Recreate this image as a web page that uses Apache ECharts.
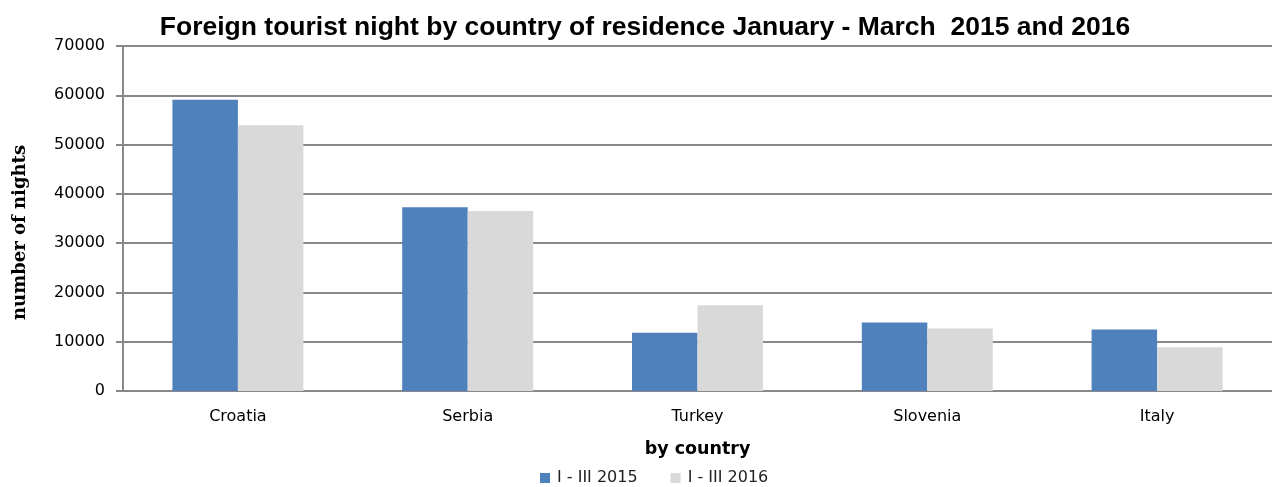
<!DOCTYPE html>
<html>
<head>
<meta charset="utf-8">
<script src="https://cdn.jsdelivr.net/npm/echarts@6/dist/echarts.min.js"></script>
<style>
html, body { margin: 0; padding: 0; background: #fff; }
#chart { width: 1272px; height: 487px; }
</style>
</head>
<body>
<div id="chart"></div>
<script>
// data
var countries = ['Croatia', 'Serbia', 'Turkey', 'Slovenia', 'Italy'];
var nights2015 = [59100, 37300, 11800, 13900, 12500];
var nights2016 = [53900, 36500, 17400, 12700, 8900];
var seriesNames = ['I - III 2015', 'I - III 2016'];

var myChart = echarts.init(document.getElementById('chart'));

myChart.setOption({
    animation: false,
    title: {
        text: 'Foreign tourist night by country of residence January - March  2015 and 2016',
        left: 640,
        textAlign: 'center',
        top: 9,
        textStyle: {
            fontFamily: 'Liberation Sans',
            fontWeight: 'bold',
            fontSize: 26.5,
            color: '#000'
        }
    },
    legend: {
        data: seriesNames,
        bottom: -4,
        left: 535,
        itemWidth: 10,
        itemHeight: 10,
        itemGap: 33,
        icon: 'rect',
        textStyle: { fontFamily: 'DejaVu Sans', fontSize: 16, color: '#222', padding: [0, 0, 0, 2] }
    },
    grid: {
        left: 123,
        right: 0,
        top: 46,
        bottom: 96
    },
    xAxis: {
        type: 'category',
        data: countries,
        name: 'by country',
        nameLocation: 'middle',
        nameGap: 49,
        nameTextStyle: { fontFamily: 'DejaVu Sans', fontWeight: 'bold', fontSize: 17.5, color: '#000' },
        axisLine: { lineStyle: { color: '#888', width: 2 } },
        axisTick: { show: false },
        axisLabel: { fontFamily: 'DejaVu Sans', fontSize: 16, color: '#000', margin: 18 }
    },
    yAxis: {
        type: 'value',
        min: 0,
        max: 70000,
        interval: 10000,
        name: 'number of nights',
        nameLocation: 'middle',
        nameGap: 94,
        nameTextStyle: {
            fontFamily: 'DejaVu Serif', fontWeight: 'bold', fontSize: 18, color: '#000',
            padding: [0, 28, 0, 0]
        },
        axisLine: { show: true, lineStyle: { color: '#888', width: 2 } },
        axisTick: { show: true, length: 7, lineStyle: { color: '#888', width: 2 } },
        axisLabel: {
            fontFamily: 'DejaVu Sans', fontSize: 16, color: '#000', margin: 18,
            formatter: function (v) { return String(v); }
        },
        splitLine: { lineStyle: { color: '#888', width: 2 } }
    },
    series: [
        {
            name: seriesNames[0],
            type: 'bar',
            data: nights2015,
            barGap: '0%',
            barCategoryGap: '43%',
            itemStyle: { color: '#4F81BD' }
        },
        {
            name: seriesNames[1],
            type: 'bar',
            data: nights2016,
            itemStyle: { color: '#D9D9D9' }
        }
    ]
});
</script>
</body>
</html>
